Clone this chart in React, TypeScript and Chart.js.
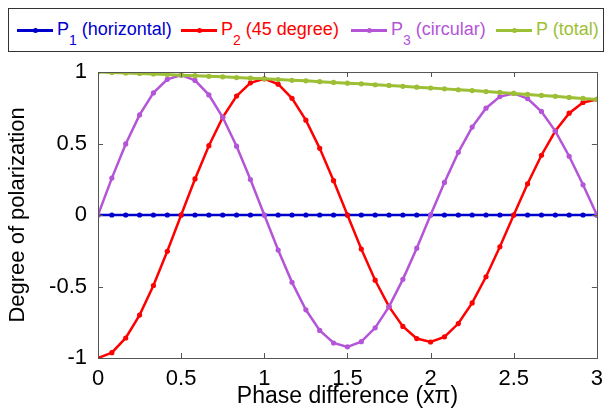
import React, { useEffect, useRef } from "react";
import { Chart, registerables } from "chart.js";

Chart.register(...registerables);

// x in units of pi, step 1/12
const phaseX: number[] = [
  0, 0.0833, 0.1667, 0.25, 0.3333, 0.4167, 0.5, 0.5833, 0.6667, 0.75, 0.8333, 0.9167,
  1, 1.0833, 1.1667, 1.25, 1.3333, 1.4167, 1.5, 1.5833, 1.6667, 1.75, 1.8333, 1.9167,
  2, 2.0833, 2.1667, 2.25, 2.3333, 2.4167, 2.5, 2.5833, 2.6667, 2.75, 2.8333, 2.9167, 3,
];

const p1Horizontal: number[] = [
  0, 0, 0, 0, 0, 0, 0, 0, 0, 0, 0, 0, 0, 0, 0, 0, 0, 0, 0, 0, 0, 0, 0, 0, 0, 0, 0, 0, 0,
  0, 0, 0, 0, 0, 0, 0, 0,
];

const p2Deg45: number[] = [
  -1.0, -0.963, -0.86, -0.7, -0.493, -0.254, 0, 0.252, 0.485, 0.683, 0.832, 0.924,
  0.952, 0.915, 0.816, 0.663, 0.466, 0.24, 0, -0.238, -0.456, -0.641, -0.779, -0.864,
  -0.888, -0.852, -0.759, -0.615, -0.432, -0.222, 0, 0.218, 0.418, 0.587, 0.712, 0.787,
  0.808,
];

const p3Circular: number[] = [
  0, 0.258, 0.497, 0.7, 0.854, 0.949, 0.978, 0.941, 0.84, 0.683, 0.481, 0.248, 0,
  -0.245, -0.471, -0.663, -0.807, -0.895, -0.922, -0.886, -0.789, -0.641, -0.45, -0.232,
  0, 0.228, 0.438, 0.615, 0.747, 0.828, 0.85, 0.814, 0.724, 0.587, 0.411, 0.211, 0,
];

const pTotal: number[] = [
  1.0, 0.997, 0.993, 0.99, 0.986, 0.982, 0.978, 0.974, 0.97, 0.966, 0.961, 0.957, 0.952,
  0.947, 0.942, 0.938, 0.932, 0.927, 0.922, 0.917, 0.911, 0.906, 0.9, 0.894, 0.888,
  0.882, 0.876, 0.87, 0.863, 0.857, 0.85, 0.843, 0.836, 0.83, 0.822, 0.815, 0.808,
];

const xTicks: number[] = [0, 0.5, 1, 1.5, 2, 2.5, 3];
const yTicks: number[] = [-1, -0.5, 0, 0.5, 1];

const COLORS = {
  blue: "#0000CC",
  red: "#FF0000",
  purple: "#B455D8",
  green: "#9DBF35",
};

const FONT = "'Liberation Sans', Arial, sans-serif";

const legendItems = [
  { main: "P", sub: "1", rest: " (horizontal)", color: COLORS.blue, left: 8 },
  { main: "P", sub: "2", rest: " (45 degree)", color: COLORS.red, left: 172 },
  { main: "P", sub: "3", rest: " (circular)", color: COLORS.purple, left: 342 },
  { main: "P", sub: "", rest: " (total)", color: COLORS.green, left: 487 },
];

const CHART_LEFT = 98;
const CHART_RIGHT = 604;
const CHART_TOP = 72;
const CHART_BOTTOM = 358;
const W = 611;
const H = 411;

function toPoints(ys: number[]) {
  return phaseX.map((x, i) => ({ x, y: ys[i] }));
}

const frameTicks = {
  id: "frameTicks",
  afterDatasetsDraw(chart: any) {
    const { ctx, chartArea } = chart;
    const xs = chart.scales.x;
    const ys = chart.scales.y;
    ctx.save();
    ctx.strokeStyle = "#555555";
    ctx.lineWidth = 1;
    ctx.strokeRect(
      Math.round(chartArea.left) + 0.5,
      Math.round(chartArea.top) + 0.5,
      Math.round(chartArea.right - chartArea.left),
      Math.round(chartArea.bottom - chartArea.top)
    );
    const L = 5;
    ctx.beginPath();
    xTicks.forEach((v) => {
      const px = Math.round(xs.getPixelForValue(v)) + 0.5;
      ctx.moveTo(px, chartArea.bottom);
      ctx.lineTo(px, chartArea.bottom - L);
      ctx.moveTo(px, chartArea.top);
      ctx.lineTo(px, chartArea.top + L);
    });
    yTicks.forEach((v) => {
      const py = Math.round(ys.getPixelForValue(v)) + 0.5;
      ctx.moveTo(chartArea.left, py);
      ctx.lineTo(chartArea.left + L, py);
      ctx.moveTo(chartArea.right, py);
      ctx.lineTo(chartArea.right - L, py);
    });
    ctx.stroke();
    ctx.restore();
  },
};

export default function App() {
  const canvasRef = useRef<HTMLCanvasElement | null>(null);

  useEffect(() => {
    if (!canvasRef.current) return;
    const mk = (label: string, ys: number[], color: string, order: number, width: number) => ({
      label,
      data: toPoints(ys),
      borderColor: color,
      backgroundColor: color,
      borderWidth: width,
      pointRadius: 2.6,
      pointBorderWidth: 0,
      pointHoverRadius: 2.6,
      pointBackgroundColor: color,
      tension: 0,
      order,
    });
    const chart = new Chart(canvasRef.current, {
      type: "line",
      data: {
        datasets: [
          mk("P1 (horizontal)", p1Horizontal, COLORS.blue, 4, 2.5),
          mk("P2 (45 degree)", p2Deg45, COLORS.red, 3, 2.5),
          mk("P3 (circular)", p3Circular, COLORS.purple, 2, 2.5),
          mk("P (total)", pTotal, COLORS.green, 1, 3),
        ] as any,
      },
      options: {
        animation: false,
        responsive: false,
        maintainAspectRatio: false,
        events: [],
        layout: {
          padding: { top: CHART_TOP, right: W - CHART_RIGHT, left: 0, bottom: 0 },
        },
        plugins: {
          legend: { display: false },
          tooltip: { enabled: false },
        },
        scales: {
          x: {
            type: "linear",
            min: 0,
            max: 3,
            border: { display: false },
            grid: { display: false, drawTicks: false },
            afterBuildTicks: (s: any) => {
              s.ticks = xTicks.map((v) => ({ value: v }));
            },
            afterFit: (s: any) => {
              s.height = H - CHART_BOTTOM;
            },
            ticks: {
              color: "#000",
              padding: 8,
              font: { family: FONT, size: 22 },
              maxRotation: 0,
              callback: (v: any) => String(v),
            },
            title: {
              display: true,
              text: "Phase difference (x\u03c0)",
              color: "#000",
              font: { family: FONT, size: 23 },
              padding: { top: 0, bottom: 1 },
            },
          },
          y: {
            type: "linear",
            min: -1,
            max: 1,
            border: { display: false },
            grid: { display: false, drawTicks: false },
            afterBuildTicks: (s: any) => {
              s.ticks = yTicks.map((v) => ({ value: v }));
            },
            afterFit: (s: any) => {
              s.width = CHART_LEFT;
            },
            ticks: {
              color: "#000",
              padding: 11,
              font: { family: FONT, size: 22 },
              callback: (v: any) => String(v),
            },
            title: {
              display: true,
              text: "Degree of polarization",
              color: "#000",
              font: { family: FONT, size: 22 },
              padding: { top: 5, bottom: 0 },
            },
          },
        },
      },
      plugins: [frameTicks],
    } as any);
    return () => chart.destroy();
  }, []);

  return (
    <div
      style={{
        position: "fixed",
        left: 0,
        top: 0,
        width: W,
        height: H,
        background: "#fff",
        fontFamily: FONT,
      }}
    >
      <canvas ref={canvasRef} width={W} height={H} style={{ position: "absolute", left: 0, top: 0 }} />
      <div
        style={{
          position: "absolute",
          left: 8,
          top: 8,
          width: 594,
          height: 42,
          border: "1.5px solid #333",
          background: "#fff",
        }}
      >
        {legendItems.map((it) => (
          <div
            key={it.rest}
            style={{
              position: "absolute",
              left: it.left,
              top: 0,
              height: 42,
              display: "flex",
              alignItems: "center",
              whiteSpace: "nowrap",
            }}
          >
            <div style={{ position: "relative", width: 36, height: 3, background: it.color, marginRight: 4 }}>
              <div
                style={{
                  position: "absolute",
                  left: 15.5,
                  top: -1,
                  width: 5,
                  height: 5,
                  borderRadius: "50%",
                  background: it.color,
                }}
              />
            </div>
            <span style={{ color: it.color, fontSize: 18, lineHeight: "20px", position: "relative", top: -1 }}>
              {it.main}
              {it.sub ? (
                <span style={{ fontSize: 14, position: "relative", top: 10 }}>{it.sub}</span>
              ) : null}
              {it.rest}
            </span>
          </div>
        ))}
      </div>
    </div>
  );
}
